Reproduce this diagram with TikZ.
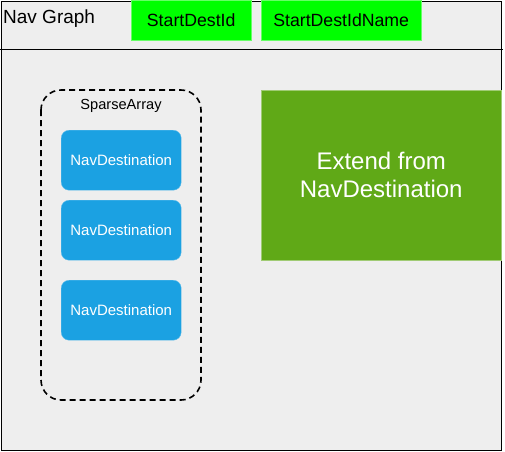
\documentclass[tikz,border=0pt]{standalone}
\usepackage{fontspec}
\setmainfont{Liberation Sans}
\definecolor{bggray}{HTML}{EEEEEE}
\definecolor{keygreen}{HTML}{00FF00}
\definecolor{destblue}{HTML}{1BA1E2}
\definecolor{extgreen}{HTML}{60A917}

\begin{document}
\begin{tikzpicture}[x=1pt, y=-1pt,
  keybox/.style={fill=keygreen, draw=keygreen!60!white, minimum width=120pt, minimum height=40pt, anchor=north west, inner sep=0pt, font=\fontsize{17.7}{20}\selectfont},
  destbox/.style={fill=destblue, draw=destblue!70!white, rounded corners=8pt, minimum width=120pt, minimum height=60pt, anchor=north west, inner sep=0pt, text=white, font=\fontsize{15}{18}\selectfont}]
\useasboundingbox (0,0) rectangle (505,451);
\fill[bggray] (1,1) rectangle (501,450);
\draw[line width=1pt] (1,1) rectangle (501,450);
\draw[line width=1pt] (0,49) -- (503,49);
\node[anchor=base west, inner sep=0pt, font=\fontsize{19}{22}\selectfont] (title) at (3,23.5) {Nav Graph};
\node[keybox] (startid) at (131,0) {StartDestId};
\node[keybox, minimum width=160pt] (startname) at (261,0) {StartDestIdName};
% sparse array
\draw[line width=1.6pt, dash pattern=on 6pt off 4pt, rounded corners=20pt] (41,90) rectangle (201,400);
\node[font=\fontsize{14.6}{17}\selectfont] (sparse) at (121,106) {SparseArray};
\node[destbox] (dest1) at (61,130) {NavDestination};
\node[destbox] (dest2) at (61,200) {NavDestination};
\node[destbox] (dest3) at (61,280) {NavDestination};
\node[fill=extgreen, draw=extgreen!60!white, minimum width=240pt, minimum height=170pt, anchor=north west, inner sep=0pt, text=white, align=center, font=\fontsize{24}{28}\selectfont] (extend) at (261,90) {Extend from\\NavDestination};
\end{tikzpicture}
\end{document}
